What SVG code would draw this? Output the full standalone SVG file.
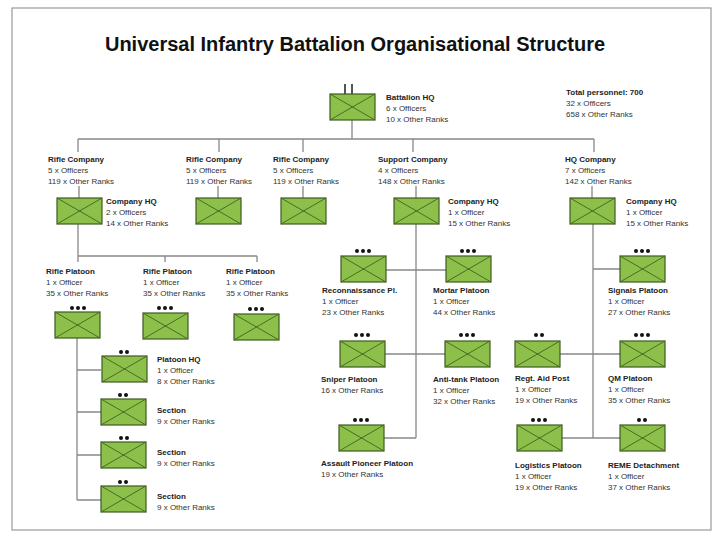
<svg xmlns="http://www.w3.org/2000/svg" xmlns:xlink="http://www.w3.org/1999/xlink" width="720" height="538" viewBox="0 0 720 538">
<style>
text{font-family:"Liberation Sans",Arial,sans-serif;font-size:8px;fill:#333}
.b{font-weight:bold;fill:#222}
.t{font-size:20px;font-weight:bold;fill:#111}
.ln{stroke:#888;stroke-width:1.3;fill:none}
.bx{fill:#8cc04b;stroke:#3d5a1e;stroke-width:1.2}
.x{stroke:#4a6b24;stroke-width:1}
</style>
<defs>
<g id="u"><rect class="bx" x="0" y="0" width="45" height="26"/><path class="x" d="M0 0L45 26M45 0L0 26"/></g>
<g id="d3"><circle cx="-6" cy="0" r="2" fill="#111"/><circle cx="0" cy="0" r="2" fill="#111"/><circle cx="6" cy="0" r="2" fill="#111"/></g>
<g id="d2"><circle cx="-3" cy="0" r="2" fill="#111"/><circle cx="3" cy="0" r="2" fill="#111"/></g>
</defs>
<rect x="0" y="0" width="720" height="538" fill="#fff"/>
<rect x="12" y="8" width="699" height="522" fill="none" stroke="#999" stroke-width="1.2"/>
<text class="t" x="355" y="51" text-anchor="middle">Universal Infantry Battalion Organisational Structure</text>
<g id="connectors" class="ln">
<path d="M352 120V139M78 139H594M78 139V152M219 139V152M303 139V152M413 139V152M594 139V152"/>
<path d="M345 84V94M352 84V94" stroke="#555" stroke-width="2"/>
<path d="M79 186V198M218 186V198M303 186V198M416 186V198M592 186V198"/>
<path d="M78 224V256H257M78 256V262M165 256V262M257 256V262"/>
<path d="M77 338V500M77 370H101M77 412H101M77 455H101M77 500H101"/>
<path d="M416 224V438M386 270H446M385 354H445M384 438H416"/>
<path d="M593 224V438M593 269H620M560 354H620M562 438H620"/>
</g>
<g id="bn-hq"><use href="#u" x="330" y="94"/><text class="b" x="386" y="100">Battalion HQ</text><text x="386" y="111">6 x Officers</text><text x="386" y="122">10 x Other Ranks</text></g>
<g id="total"><text class="b" x="566" y="95">Total personnel: 700</text><text x="566" y="106">32 x Officers</text><text x="566" y="117">658 x Other Ranks</text></g>
<g id="rifle-coy-1"><text class="b" x="48" y="162">Rifle Company</text><text x="48" y="173">5 x Officers</text><text x="48" y="184">119 x Other Ranks</text><use href="#u" x="57" y="198"/><text class="b" x="106" y="204">Company HQ</text><text x="106" y="215">2 x Officers</text><text x="106" y="226">14 x Other Ranks</text></g>
<g id="rifle-coy-2"><text class="b" x="186" y="162">Rifle Company</text><text x="186" y="173">5 x Officers</text><text x="186" y="184">119 x Other Ranks</text><use href="#u" x="196" y="198"/></g>
<g id="rifle-coy-3"><text class="b" x="273" y="162">Rifle Company</text><text x="273" y="173">5 x Officers</text><text x="273" y="184">119 x Other Ranks</text><use href="#u" x="281" y="198"/></g>
<g id="support-coy"><text class="b" x="378" y="162">Support Company</text><text x="378" y="173">4 x Officers</text><text x="378" y="184">148 x Other Ranks</text><use href="#u" x="394" y="198"/><text class="b" x="448" y="204">Company HQ</text><text x="448" y="215">1 x Officer</text><text x="448" y="226">15 x Other Ranks</text></g>
<g id="hq-coy"><text class="b" x="565" y="162">HQ Company</text><text x="565" y="173">7 x Officers</text><text x="565" y="184">142 x Other Ranks</text><use href="#u" x="570" y="198"/><text class="b" x="626" y="204">Company HQ</text><text x="626" y="215">1 x Officer</text><text x="626" y="226">15 x Other Ranks</text></g>
<g id="rifle-pl-1"><text class="b" x="46" y="274">Rifle Platoon</text><text x="46" y="285">1 x Officer</text><text x="46" y="296">35 x Other Ranks</text><use href="#d3" x="78" y="308"/><use href="#u" x="55" y="312"/></g>
<g id="rifle-pl-2"><text class="b" x="143" y="274">Rifle Platoon</text><text x="143" y="285">1 x Officer</text><text x="143" y="296">35 x Other Ranks</text><use href="#d3" x="165" y="308"/><use href="#u" x="143" y="313"/></g>
<g id="rifle-pl-3"><text class="b" x="226" y="274">Rifle Platoon</text><text x="226" y="285">1 x Officer</text><text x="226" y="296">35 x Other Ranks</text><use href="#d3" x="256" y="309"/><use href="#u" x="234" y="314"/></g>
<g id="pl-hq"><use href="#d2" x="124" y="352"/><use href="#u" x="102" y="356"/><text class="b" x="157" y="362">Platoon HQ</text><text x="157" y="373">1 x Officer</text><text x="157" y="384">8 x Other Ranks</text></g>
<g id="section-1"><use href="#d2" x="123" y="395"/><use href="#u" x="101" y="399"/><text class="b" x="157" y="413">Section</text><text x="157" y="424">9 x Other Ranks</text></g>
<g id="section-2"><use href="#d2" x="124" y="438"/><use href="#u" x="101" y="442"/><text class="b" x="157" y="455">Section</text><text x="157" y="466">9 x Other Ranks</text></g>
<g id="section-3"><use href="#d2" x="123" y="482"/><use href="#u" x="101" y="486"/><text class="b" x="157" y="499">Section</text><text x="157" y="510">9 x Other Ranks</text></g>
<g id="recce"><use href="#d3" x="363" y="251"/><use href="#u" x="341" y="256"/><text class="b" x="322" y="293">Reconnaissance Pl.</text><text x="322" y="304">1 x Officer</text><text x="322" y="315">23 x Other Ranks</text></g>
<g id="mortar"><use href="#d3" x="468" y="251"/><use href="#u" x="446" y="256"/><text class="b" x="433" y="293">Mortar Platoon</text><text x="433" y="304">1 x Officer</text><text x="433" y="315">44 x Other Ranks</text></g>
<g id="sniper"><use href="#d3" x="362" y="335"/><use href="#u" x="340" y="341"/><text class="b" x="321" y="382">Sniper Platoon</text><text x="321" y="393">16 x Other Ranks</text></g>
<g id="antitank"><use href="#d3" x="467" y="335"/><use href="#u" x="445" y="341"/><text class="b" x="433" y="382">Anti-tank Platoon</text><text x="433" y="393">1 x Officer</text><text x="433" y="404">32 x Other Ranks</text></g>
<g id="pioneer"><use href="#d3" x="361" y="420"/><use href="#u" x="339" y="425"/><text class="b" x="321" y="466">Assault Pioneer Platoon</text><text x="321" y="477">19 x Other Ranks</text></g>
<g id="signals"><use href="#d3" x="642" y="251"/><use href="#u" x="620" y="256"/><text class="b" x="608" y="293">Signals Platoon</text><text x="608" y="304">1 x Officer</text><text x="608" y="315">27 x Other Ranks</text></g>
<g id="rap"><use href="#d2" x="539" y="335"/><use href="#u" x="515" y="341"/><text class="b" x="515" y="381">Regt. Aid Post</text><text x="515" y="392">1 x Officer</text><text x="515" y="403">19 x Other Ranks</text></g>
<g id="qm"><use href="#d3" x="642" y="335"/><use href="#u" x="620" y="341"/><text class="b" x="608" y="381">QM Platoon</text><text x="608" y="392">1 x Officer</text><text x="608" y="403">35 x Other Ranks</text></g>
<g id="logistics"><use href="#d3" x="539" y="420"/><use href="#u" x="517" y="425"/><text class="b" x="515" y="468">Logistics Platoon</text><text x="515" y="479">1 x Officer</text><text x="515" y="490">19 x Other Ranks</text></g>
<g id="reme"><use href="#d2" x="642" y="420"/><use href="#u" x="620" y="425"/><text class="b" x="608" y="468">REME Detachment</text><text x="608" y="479">1 x Officer</text><text x="608" y="490">37 x Other Ranks</text></g>
</svg>
